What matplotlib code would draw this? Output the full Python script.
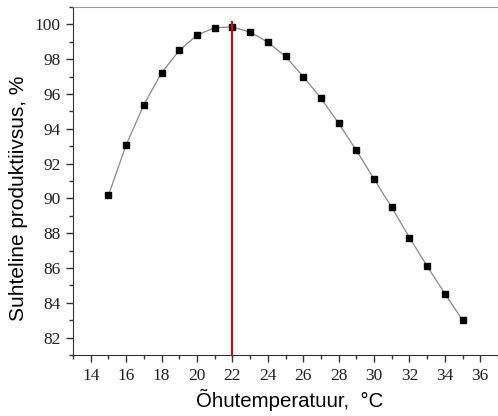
import matplotlib
matplotlib.use("Agg")
import matplotlib.pyplot as plt
from matplotlib.ticker import MultipleLocator

temps = [15, 16, 17, 18, 19, 20, 21, 22, 23, 24, 25, 26, 27, 28, 29, 30, 31, 32, 33, 34, 35]
productivity = [90.17, 93.07, 95.38, 97.22, 98.5, 99.38, 99.81, 99.85, 99.56, 98.98, 98.16,
                97.0, 95.76, 94.32, 92.76, 91.12, 89.48, 87.75, 86.1, 84.53, 83.0]
optimum_temp = 22
optimum_top = 100.2

fig = plt.figure(figsize=(4.98, 4.16), dpi=100)
ax = fig.add_axes([73/498, 61/416, 1 - 73/498, (355-7)/416])

ax.plot(temps, productivity, color='#888888', lw=0.9, zorder=2)
ax.plot(temps, productivity, ls='none', marker='s', ms=4.6, color='black', zorder=3)
ax.vlines(optimum_temp, 81, optimum_top, color='#e00000', lw=1.5, zorder=4)

ax.set_xlim(13, 37)
ax.set_ylim(81, 101)
ax.xaxis.set_minor_locator(MultipleLocator(1))
ax.yaxis.set_minor_locator(MultipleLocator(1))
ax.set_xticks(range(14, 37, 2))
ax.set_yticks(range(82, 101, 2))

ax.spines['right'].set_visible(False)
ax.spines['top'].set_color('#999999')
ax.spines['left'].set_color('#333333')
ax.spines['bottom'].set_color('#333333')
ax.tick_params(axis='both', which='major', length=5, width=1, color='#333333', direction='out', pad=4)
ax.tick_params(axis='both', which='minor', length=3, width=1, color='#333333', direction='out')
ax.tick_params(axis='y', which='both', left=True, right=False)
ax.tick_params(axis='x', which='both', top=False)
for lab in ax.get_xticklabels() + ax.get_yticklabels():
    lab.set_fontfamily('Liberation Serif')
    lab.set_fontsize(12.5)
    lab.set_color('#222222')

fig.text(19/498, 1 - 198/416, 'Suhteline produktiivsus, %', rotation=90, ha='center', va='center',
         fontsize=15, family='Liberation Sans', color='black')
fig.text(290/498, 1 - 400/416, 'Õhutemperatuur,  °C', ha='center', va='center',
         fontsize=14.7, family='Liberation Sans', color='black')

fig.savefig('out.png', dpi=100)
